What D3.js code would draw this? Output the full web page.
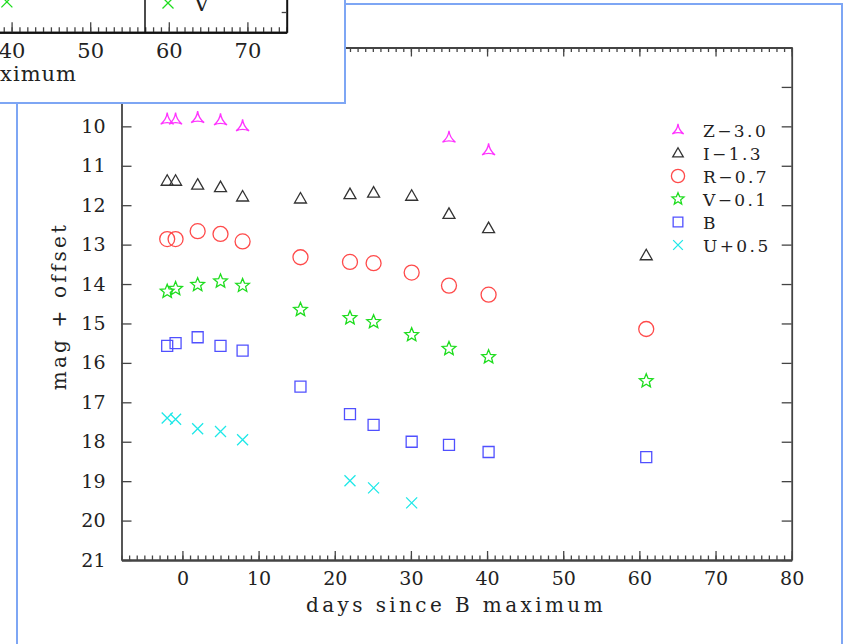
<!DOCTYPE html>
<html>
<head>
<meta charset="utf-8">
<script src="https://cdn.jsdelivr.net/npm/d3@7"></script>
<style>
  body { margin: 0; background: #fff; }
  svg { display: block; }
  text { font-family: "DejaVu Serif", serif; fill: #222; }
</style>
</head>
<body>
<div id="chart"></div>
<script>

// light curve, offsets already applied
var zDays = [-2.0, -0.9, 2.0, 5.0, 7.9, 35.0, 40.2];
var zMag = [9.83, 9.83, 9.79, 9.85, 10.0, 10.29, 10.61];

var days = [-2.0, -0.9, 2.0, 5.0, 7.9, 15.5, 22.0, 25.1, 30.1, 35.0, 40.2, 60.9];
var iMag = [11.38, 11.38, 11.48, 11.54, 11.78, 11.83, 11.72, 11.68, 11.76, 12.22, 12.58, 13.27];
var rMag = [12.86, 12.86, 12.66, 12.73, 12.92, 13.32, 13.44, 13.47, 13.71, 14.04, 14.27, 15.14];
var vMag = [14.19, 14.12, 14.02, 13.93, 14.04, 14.65, 14.86, 14.96, 15.29, 15.64, 15.85, 16.46];
var bMag = [15.57, 15.50, 15.35, 15.57, 15.69, 16.60, 17.30, 17.57, 18.00, 18.08, 18.26, 18.39];

var uDays = [-2.0, -0.9, 2.0, 5.0, 7.9, 22.0, 25.1, 30.1];
var uMag = [17.40, 17.43, 17.67, 17.74, 17.95, 18.99, 19.17, 19.55];

var bands = ["Z\u22123.0", "I\u22121.3", "R\u22120.7", "V\u22120.1", "B", "U+0.5"];

var xMajor = [0, 10, 20, 30, 40, 50, 60, 70, 80];
var yTicks = [9, 10, 11, 12, 13, 14, 15, 16, 17, 18, 19, 20, 21];

// the other figure peeking in at the top-left
var topVDays = [39.4];
var topVMag = [20.25];
var topXMajor = [40, 50, 60, 70];

var width = 846, height = 644;

var svg = d3.select("#chart").append("svg")
	.attr("width", width)
	.attr("height", height);

// marker shapes
function shape(kind, k) {
	k = k || 1;
	if (kind == "tri3") {
		return "M0," + (-7 * k) + " Q" + (0.8 * k) + ",0 " + (6.5 * k) + "," + (4.5 * k) +
			" Q0," + (1.5 * k) + " " + (-6.5 * k) + "," + (4.5 * k) +
			" Q" + (-0.8 * k) + ",0 0," + (-7 * k) + "Z";
	}
	if (kind == "tri") return "M0," + (-6 * k) + "L" + (6 * k) + "," + (4.5 * k) + "L" + (-6 * k) + "," + (4.5 * k) + "Z";
	if (kind == "sq") return "M" + (-5.5 * k) + "," + (-5.5 * k) + "h" + (11 * k) + "v" + (11 * k) + "h" + (-11 * k) + "Z";
	if (kind == "x") return "M" + (-5.5 * k) + "," + (-5.5 * k) + "L" + (5.5 * k) + "," + (5.5 * k) +
		"M" + (5.5 * k) + "," + (-5.5 * k) + "L" + (-5.5 * k) + "," + (5.5 * k);
	if (kind == "star") {
		var p = [];
		for (var i = 0; i < 10; i++) {
			var r = (i % 2 ? 3.2 : 7.2) * k;
			var a = -Math.PI / 2 + i * Math.PI / 5;
			p.push((r * Math.cos(a)).toFixed(2) + "," + (r * Math.sin(a)).toFixed(2));
		}
		return "M" + p.join("L") + "Z";
	}
	// circle
	var c = 7.5 * k;
	return "M" + (-c) + ",0a" + c + "," + c + " 0 1,0 " + (2 * c) + ",0a" + c + "," + c + " 0 1,0 " + (-2 * c) + ",0";
}

var series = [
	{ name: bands[0], d: zDays, m: zMag, kind: "tri3", color: "#ff33ff" },
	{ name: bands[1], d: days, m: iMag, kind: "tri", color: "#333" },
	{ name: bands[2], d: days, m: rMag, kind: "circ", color: "#ff4a4a" },
	{ name: bands[3], d: days, m: vMag, kind: "star", color: "#1edd1e" },
	{ name: bands[4], d: days, m: bMag, kind: "sq", color: "#5050ff" },
	{ name: bands[5], d: uDays, m: uMag, kind: "x", color: "#1ee8e8" }
];

// ---- main panel ----
svg.append("rect").attr("x", 17).attr("y", 4).attr("width", 825).attr("height", 700)
	.attr("fill", "white").attr("stroke", "#7ea6f4").attr("stroke-width", 2);

var x = d3.scaleLinear().domain([-8, 80]).range([121.5, 791.7]);
var y = d3.scaleLinear().domain([8, 21]).range([47.5, 560]);

var plot = svg.append("g");

function styleAxis(g) {
	g.selectAll("path.domain").attr("stroke", "#444").attr("stroke-width", 1.8);
	g.selectAll(".tick line").attr("stroke", "#444").attr("stroke-width", 1.3);
	g.selectAll(".tick text").style("font-family", "DejaVu Serif").style("fill", "#222");
}

var minor = d3.range(-8, 81, 1);

// bottom
plot.append("g").attr("transform", "translate(0," + y(21) + ")")
	.call(d3.axisBottom(x).tickValues(minor).tickSize(-4.5).tickSizeOuter(0).tickFormat(""))
	.call(styleAxis);
plot.append("g").attr("transform", "translate(0," + y(21) + ")")
	.call(d3.axisBottom(x).tickValues(xMajor).tickSize(-9).tickSizeOuter(0).tickPadding(12))
	.call(styleAxis)
	.selectAll("text").attr("font-size", 19);
// top
plot.append("g").attr("transform", "translate(0," + y(8) + ")")
	.call(d3.axisTop(x).tickValues(minor).tickSize(-4.5).tickSizeOuter(0).tickFormat(""))
	.call(styleAxis);
plot.append("g").attr("transform", "translate(0," + y(8) + ")")
	.call(d3.axisTop(x).tickValues(xMajor).tickSize(-9).tickSizeOuter(0).tickFormat(""))
	.call(styleAxis);
// left
plot.append("g").attr("transform", "translate(" + x(-8) + ",0)")
	.call(d3.axisLeft(y).tickValues(yTicks).tickSize(-10).tickSizeOuter(0).tickPadding(16))
	.call(styleAxis)
	.selectAll("text").attr("font-size", 19);
// right
plot.append("g").attr("transform", "translate(" + x(80) + ",0)")
	.call(d3.axisRight(y).tickValues(yTicks).tickSize(-10).tickSizeOuter(0).tickFormat(""))
	.call(styleAxis);

plot.append("text").attr("x", 456).attr("y", 612)
	.attr("text-anchor", "middle").attr("font-size", 20).attr("letter-spacing", 3.4)
	.text("days since B maximum");

plot.append("text").attr("transform", "translate(66,306) rotate(-90)")
	.attr("text-anchor", "middle").attr("font-size", 20).attr("letter-spacing", 3.2)
	.text("mag + offset");

series.forEach(function(s) {
	plot.append("g").selectAll("path").data(s.d).enter().append("path")
		.attr("transform", function(d, i) { return "translate(" + x(d) + "," + y(s.m[i]) + ")"; })
		.attr("d", shape(s.kind))
		.attr("fill", "none")
		.attr("stroke", s.color)
		.attr("stroke-width", 1.3);
});

// legend
var leg = plot.append("g").attr("transform", "translate(678,130)");
series.forEach(function(s, i) {
	leg.append("path").attr("transform", "translate(0," + (i * 23) + ")")
		.attr("d", shape(s.kind, 0.88))
		.attr("fill", "none").attr("stroke", s.color).attr("stroke-width", 1.3);
	leg.append("text").attr("x", 25).attr("y", i * 23 + 6.5)
		.attr("font-size", 17).attr("letter-spacing", 2.4)
		.text(s.name);
});

// ---- top-left panel (other figure, partly off screen) ----
svg.append("defs").append("clipPath").attr("id", "topclip")
	.append("rect").attr("x", -10).attr("y", -10).attr("width", 355).attr("height", 113);

var topPanel = svg.append("g");
topPanel.append("rect").attr("x", -10).attr("y", -10).attr("width", 355).attr("height", 113)
	.attr("fill", "white").attr("stroke", "#7ea6f4").attr("stroke-width", 2);

var tg = topPanel.append("g").attr("clip-path", "url(#topclip)");
var tx = d3.scaleLinear().domain([-8, 75]).range([286.7 - 83 * 7.86, 286.7]);
var ty = d3.scaleLinear().domain([20, 21]).range([32.3 - 40.6, 32.3]);

tg.append("g").attr("transform", "translate(0," + ty(21) + ")")
	.call(d3.axisBottom(tx).tickValues(d3.range(-8, 76, 1)).tickSize(-5).tickSizeOuter(0).tickFormat(""))
	.call(styleAxis);
tg.append("g").attr("transform", "translate(0," + ty(21) + ")")
	.call(d3.axisBottom(tx).tickValues(topXMajor).tickSize(-10).tickSizeOuter(0).tickPadding(11))
	.call(styleAxis)
	.selectAll("text").attr("font-size", 21);
tg.append("g").attr("transform", "translate(" + tx(75) + ",0)")
	.call(d3.axisRight(ty).tickValues([20.5]).tickSize(-5).tickSizeOuter(0).tickFormat(""))
	.call(styleAxis);
tg.selectAll("path.domain").attr("stroke", "#111").attr("stroke-width", 2);

tg.append("text").attr("x", 77).attr("y", 81)
	.attr("text-anchor", "end").attr("font-size", 21).attr("letter-spacing", 1)
	.text("days since B maximum");

// legend box edge and entry
tg.append("line").attr("x1", 145).attr("x2", 145).attr("y1", -10).attr("y2", ty(21))
	.attr("stroke", "#111").attr("stroke-width", 1.5);
tg.append("path").attr("transform", "translate(168,3)")
	.attr("d", shape("x")).attr("fill", "none").attr("stroke", "#1edd1e").attr("stroke-width", 1.3);
tg.append("text").attr("x", 194).attr("y", 10.5).attr("font-size", 21).text("V");

tg.selectAll("path.pt").data(topVDays).enter().append("path")
	.attr("class", "pt")
	.attr("transform", function(d, i) { return "translate(" + tx(d) + "," + ty(topVMag[i]) + ")"; })
	.attr("d", shape("x")).attr("fill", "none").attr("stroke", "#1edd1e").attr("stroke-width", 1.3);

</script>
</body>
</html>
